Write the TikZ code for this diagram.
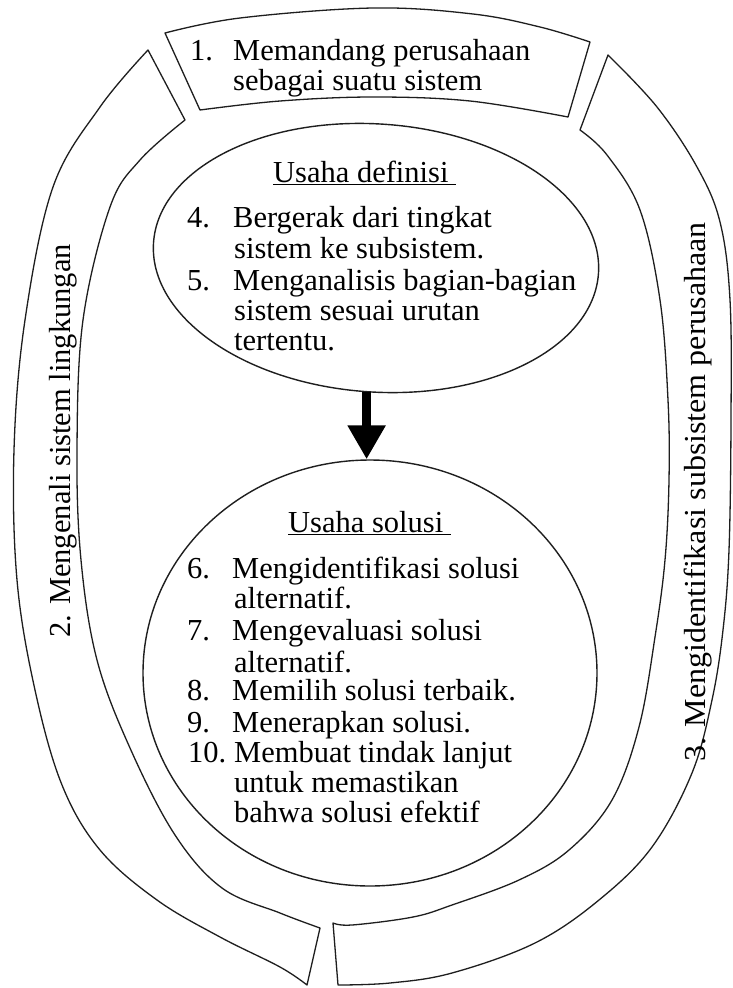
\documentclass[tikz,border=0pt]{standalone}
\usepackage{fontspec}
\setmainfont{Liberation Serif}
\usetikzlibrary{shapes.geometric,arrows.meta}
\newcommand{\bodyfont}{\fontsize{30.5}{31}\selectfont}
\definecolor{ink}{HTML}{1E1E1E}
\begin{document}
\begin{tikzpicture}[x=1pt,y=-1pt,
  band/.style={draw=ink, line width=1.3pt, line join=round},
  oval/.style={ellipse, draw=ink, line width=1.4pt, inner sep=0pt},
  txt/.style={anchor=base west, inner sep=0pt, font=\bodyfont, text=black},
  sidetxt/.style={rotate=90, anchor=base, inner sep=0pt, font=\bodyfont, text=black},
  arr/.style={line width=9pt, draw=black, -{Triangle[length=34pt,width=36pt]}}]
\fill[white] (0,0) rectangle (732,988);
\useasboundingbox (0,0) rectangle (732,988);

% top segment (1)
\draw[band] plot[smooth, tension=0.6] coordinates {(165,33) (240,18) (373,8) (473,14) (540,27) (590,42)}
  -- (568,117)
  -- plot[smooth, tension=0.6] coordinates {(568,117) (470,101) (373,97) (280,101) (200,110)}
  -- cycle;

% left segment (2)
\draw[band] plot[smooth, tension=0.6] coordinates {(148,50) (100,107) (53,187) (25,320) (14,450) (17,580) (35,690) (62,785) (100,850) (157,900) (220,937) (280,967) (307,985)}
  -- (320,928)
  -- plot[smooth, tension=0.6] coordinates {(320,928) (280,913) (222,888) (175,835) (130,748) (97,660) (81,560) (77,450) (83,320) (110,207) (140,160) (185,120)}
  -- cycle;

% right segment (3)
\draw[band] plot[smooth, tension=0.6] coordinates {(608,55) (657,107) (697,167) (720,222) (730,300) (731,420) (729,550) (723,630) (712,700) (692,773) (652,847) (599,900) (535,943) (452,973) (390,983) (338,985)}
  -- (333,923)
  -- plot[smooth, tension=0.6] coordinates {(333,923) (352,925) (413,917) (452,905) (519,880) (569,850) (612,800) (639,727) (655,637) (665,560) (669,480) (668,400) (660,300) (640,210) (607,155) (580,130)}
  -- cycle;

% ellipses
\node[oval, minimum width=446pt, minimum height=268pt, rotate=-4] (e1) at (376,258) {};
\node[oval, minimum width=454pt, minimum height=426pt] (e2) at (370,673) {};
\draw[arr] (e1.south) -- (e1.south |- e2.north);

% top text
\node[txt] (n1) at (190,60) {1.};
\node[txt] (t1a) at (233,60) {Memandang perusahaan};
\node[txt] (t1b) at (233,90) {sebagai suatu sistem};

% ellipse 1 text
\node[txt] (h1) at (273,182) {\underline{Usaha definisi\ }};
\node[txt] (n4) at (187,227) {4.};
\node[txt] (t4a) at (233,227) {Bergerak dari tingkat};
\node[txt] (t4b) at (234,258) {sistem ke subsistem.};
\node[txt] (n5) at (187,290) {5.};
\node[txt] (t5a) at (233,290) {Menganalisis bagian-bagian};
\node[txt] (t5b) at (234,320) {sistem sesuai urutan};
\node[txt] (t5c) at (234,350) {tertentu.};

% ellipse 2 text
\node[txt] (h2) at (288,532) {\underline{Usaha solusi\ }};
\node[txt] (n6) at (187,578) {6.};
\node[txt] (t6a) at (232,578) {Mengidentifikasi solusi};
\node[txt] (t6b) at (234,608) {alternatif.};
\node[txt] (n7) at (187,640) {7.};
\node[txt] (t7a) at (232,640) {Mengevaluasi solusi};
\node[txt] (t7b) at (234,672) {alternatif.};
\node[txt] (n8) at (187,700) {8.};
\node[txt] (t8a) at (232,700) {Memilih solusi terbaik.};
\node[txt] (n9) at (187,732) {9.};
\node[txt] (t9a) at (232,732) {Menerapkan solusi.};
\node[txt] (n10) at (188,762) {10.};
\node[txt] (t10a) at (234,762) {Membuat tindak lanjut};
\node[txt] (t10b) at (234,792) {untuk memastikan};
\node[txt] (t10c) at (234,822) {bahwa solusi efektif};

% side texts
\node[sidetxt] (s2) at (70,441) {2. Mengenali sistem lingkungan};
\node[sidetxt] (s3) at (705,492) {\scalebox{1.05}[1]{3. Mengidentifikasi subsistem perusahaan}};
\end{tikzpicture}
\end{document}
